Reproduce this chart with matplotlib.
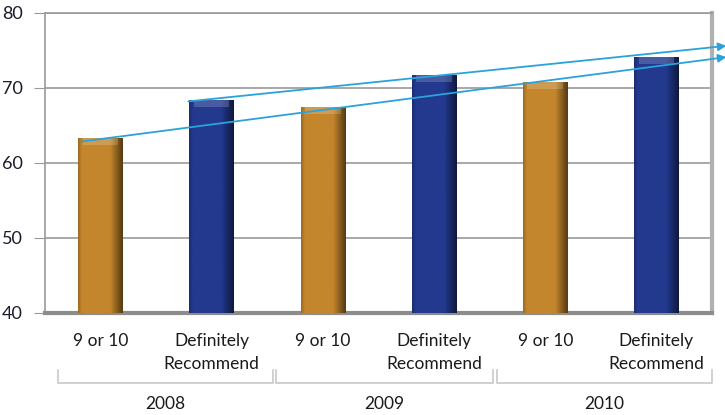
import numpy as np
import matplotlib
matplotlib.use("Agg")
import matplotlib.pyplot as plt
import matplotlib.colors as mcolors
import matplotlib.transforms as mtransforms

plt.rcParams['font.family'] = ['Lato', 'DejaVu Sans']

# data
labels = ["9 or 10", "Definitely\nRecommend"] * 3
years = ["2008", "2009", "2010"]
values = [63.3, 68.4, 67.4, 71.7, 70.8, 74.1]
colors = ["#c4862c", "#22398e"] * 3

# trend arrows (start x, start y) -> (end x, end y) in data units
trend_start = [(-0.17, 62.85), (0.79, 68.2)]
trend_end = [(5.63, 74.1), (5.63, 75.6)]

fig = plt.figure(figsize=(7.25, 4.15), dpi=100)
ax = fig.add_axes([0.062, 0.246, 0.92, 0.723])

x = np.arange(len(values))
bars = ax.bar(x, [v - 40 for v in values], bottom=40, width=0.4,
              color='none', edgecolor='none', zorder=3)

# horizontal shading inside each bar (light left edge, dark right edge)
t = np.linspace(0, 1, 60)
shade = np.where(t < 0.08, 0.8 + 2.5 * t,
                 np.where(t < 0.72, 1.0, 1.0 - (t - 0.72) * 2.0))
for b, c in zip(bars, colors):
    rgb = np.array(mcolors.to_rgb(c))
    img = np.clip(shade[None, :, None] * rgb[None, None, :], 0, 1)
    x0, y0 = b.get_x(), b.get_y()
    im = ax.imshow(img, extent=(x0, x0 + b.get_width(), y0, y0 + b.get_height()),
                   aspect='auto', zorder=3, interpolation='bilinear')
    im.set_clip_path(b)
    # lighter bevel at the top
    ax.bar(b.get_x() + b.get_width() / 2, 0.9, bottom=y0 + b.get_height() - 0.9,
           width=b.get_width() * 0.8, color='white', alpha=0.18, linewidth=0,
           zorder=4)

ax.set_xlim(-0.5, 5.5)
ax.set_ylim(40, 80)
ax.set_yticks([40, 50, 60, 70, 80])
ax.yaxis.grid(True, color='#9a9a9a', linewidth=1.2, zorder=0)
ax.set_xticks([])
ax.tick_params(axis='y', length=8, color='#9a9a9a', labelsize=13,
               labelcolor='#1a1a2a', pad=8)

for s in ['left', 'top']:
    ax.spines[s].set_color('#9a9a9a')
    ax.spines[s].set_linewidth(1.2)
ax.spines['right'].set_color('#b0b0b0')
ax.spines['right'].set_linewidth(3)
ax.spines['bottom'].set_color('#8c8c8c')
ax.spines['bottom'].set_linewidth(3)

for (x0, y0), (x1, y1) in zip(trend_start, trend_end):
    ax.annotate('', xy=(x1, y1), xytext=(x0, y0),
                arrowprops=dict(arrowstyle='-|>', color='#2aa3dc', lw=1.3,
                                mutation_scale=12, shrinkA=0, shrinkB=0),
                annotation_clip=False, zorder=5)

trans = mtransforms.blended_transform_factory(ax.transData, ax.transAxes)
for xi, lab in zip(x, labels):
    n = lab.count("\n")
    ax.text(xi, -0.093 - n * 0.0383, lab, transform=trans, ha='center',
            va='center', fontsize=12.5, color='#1a1a1a', linespacing=1.5)

group_edges = [(-0.38, 1.55), (1.58, 3.53), (3.57, 5.5)]
for (g0, g1), yr in zip(group_edges, years):
    ax.plot([g0, g0, g1, g1], [-0.19, -0.233, -0.233, -0.19],
            transform=trans, color='#c8c8c8', lw=1.2, clip_on=False)
    ax.text((g0 + g1) / 2, -0.303, yr, transform=trans, ha='center',
            va='center', fontsize=12.5, color='#1a1a1a')

fig.savefig("out.png", dpi=100)
